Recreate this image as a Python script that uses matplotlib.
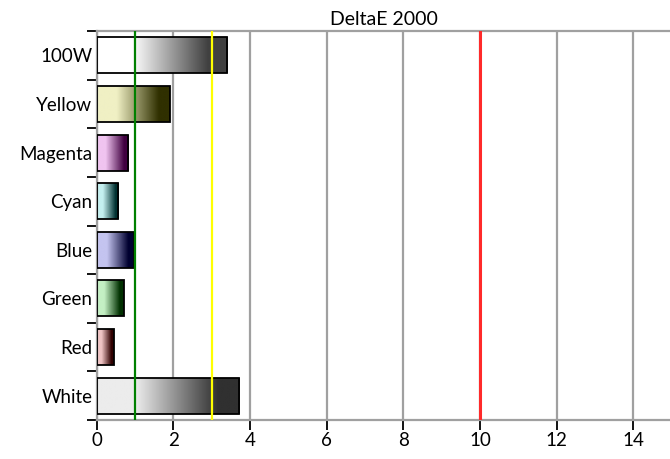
import numpy as np
import matplotlib
matplotlib.use("Agg")
import matplotlib.pyplot as plt
import matplotlib.colors as colors
import matplotlib.patches as mpatches

# bottom -> top
categories = ['White', 'Red', 'Green', 'Blue', 'Cyan', 'Magenta', 'Yellow', '100W']
delta_e = [3.72, 0.44, 0.70, 0.96, 0.55, 0.81, 1.90, 3.41]
light_cols = ['#ececec', '#f0c4c4', '#c4f0c4', '#c4c4f0', '#c4f0f0', '#f0c4f0', '#f0f0c4', '#ffffff']
dark_cols = ['#303030', '#300000', '#003000', '#000030', '#003030', '#400040', '#303000', '#404040']
x_ticks = [0, 2, 4, 6, 8, 10, 12, 14]
ref_lines = [(1, 'green'), (3, 'yellow'), (10, '#ff2a2a')]

plt.rcParams['font.family'] = ['Lato', 'DejaVu Sans']

fig = plt.figure(figsize=(6.7, 4.59), dpi=100)
ax = fig.add_axes([96.7 / 670, 1 - 420 / 459, 575 / 670, 389 / 459])

bar_h = 0.74


def gradient(c0, c1, n=200):
    a = np.array(colors.to_rgb(c0))
    b = np.array(colors.to_rgb(c1))
    t = np.linspace(0, 1, n)
    s = np.clip((t - 0.27) / (0.85 - 0.27), 0, 1)
    return (a[None, :] * (1 - s[:, None]) + b[None, :] * s[:, None])[None, :, :]


for i, (v, c0, c1) in enumerate(zip(delta_e, light_cols, dark_cols)):
    ax.imshow(gradient(c0, c1), extent=(0, v, i - bar_h / 2, i + bar_h / 2),
              aspect='auto', interpolation='bilinear', zorder=2)
    ax.add_patch(mpatches.Rectangle((0, i - bar_h / 2), v, bar_h, fill=False,
                                    edgecolor='black', lw=1.3, zorder=3))

for xv, col in ref_lines:
    ax.axvline(xv, color=col, lw=2.2 if xv == 10 else 1.6, zorder=4)

ax.set_xlim(0, 15)
ax.set_ylim(-0.5, len(categories) - 0.5)
ax.set_xticks(x_ticks)
ax.set_yticks(range(len(categories)))
ax.set_yticklabels(categories)
ax.set_yticks(np.arange(-0.5, len(categories)), minor=True)
ax.tick_params(axis='y', which='major', length=0, pad=3, labelsize=13.5)
ax.tick_params(axis='y', which='minor', length=7, width=1.3, color='black')
ax.tick_params(axis='x', which='major', length=7, width=1.3, color='black', labelsize=13.5, pad=2)
ax.grid(axis='x', color='#a0a0a0', lw=1.6, zorder=0)
ax.set_axisbelow(True)
for side in ['left', 'bottom', 'top']:
    ax.spines[side].set_color('#a0a0a0')
    ax.spines[side].set_linewidth(1.6)
ax.spines['right'].set_visible(False)

ax.set_title('DeltaE 2000', fontsize=14, pad=4)

fig.savefig('out.png', dpi=100)
